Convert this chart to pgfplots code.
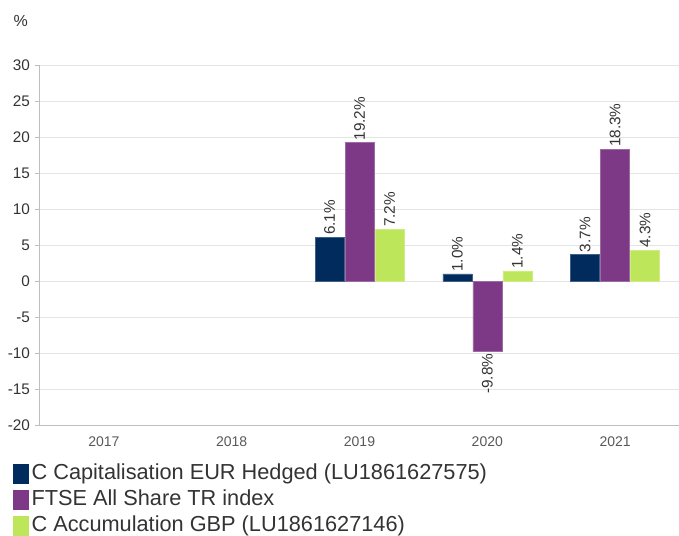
\documentclass[border=0pt]{standalone}
\usepackage{pgfplots}
\pgfplotsset{compat=1.18}
\usepackage{fontspec}
\setmainfont{Liberation Sans}
\definecolor{cnavy}{RGB}{0,43,92}
\definecolor{cpurple}{RGB}{125,56,134}
\definecolor{cgreen}{RGB}{190,230,90}
\definecolor{gridc}{RGB}{228,228,228}
\definecolor{axc}{RGB}{190,190,190}
\definecolor{txt}{RGB}{51,51,51}
\begin{document}
\begin{tikzpicture}
\useasboundingbox (-30pt,-83.25pt) rectangle (479.25pt,318.75pt);
\begin{axis}[
  at={(0,0)}, anchor=south west,
  scale only axis, width=479.25pt, height=270pt,
  xmin=-0.5, xmax=4.5, ymin=-20, ymax=30,
  ytick={-20,-15,...,30},
  xtick={0,1,2,3,4},
  xticklabels={2017,2018,2019,2020,2021},
  ymajorgrids, grid style={gridc, line width=0.75pt},
  axis x line*=bottom, axis y line*=left,
  axis line style={axc, line width=0.75pt},
  x axis line style={-}, y axis line style={-},
  major x tick style={draw=none},
  major y tick style={axc, line width=0.75pt},
  tick align=outside, major tick length=4pt,
  tick label style={text=txt},
  yticklabel style={font=\fontsize{11.5}{13}\selectfont},
  /pgf/number format/assume math mode=true,
  xticklabel style={font=\fontsize{10.5}{12}\selectfont, yshift=-1pt, text=black!65},
  ybar=0.75pt, bar width=21.75pt,
  nodes near coords={\pgfmathprintnumber[fixed,fixed zerofill,precision=1]{\pgfplotspointmeta}\%},
  visualization depends on={value \thisrow{a} \as \myanchor},
  every node near coord/.append style={rotate=90, anchor=\myanchor, inner sep=1.5pt,
     font=\fontsize{11.5}{13}\selectfont, text=txt},
  legend cell align=left,
  legend style={at={(rel axis cs:0,0)}, anchor=north west, xshift=-20.5pt, yshift=-27pt,
    draw=none, fill=none, font=\fontsize{16.3}{18}\selectfont, text=txt,
    row sep=0pt, inner sep=0pt,
    nodes={text height=12pt, text depth=3.5pt, inner sep=2pt}},
  legend image code/.code={\fill[#1,draw=none] (0pt,-7.5pt) rectangle (12pt,7.5pt);},
  clip=false,
]
\addplot[fill=cnavy, draw=cnavy!75!white, line width=0.4pt] table[x=x,y=y] {
x y a
2 6.1 west
3 1.0 west
4 3.7 west
};
\addplot[fill=cpurple, draw=cpurple!75!white, line width=0.4pt] table[x=x,y=y] {
x y a
2 19.2 west
3 -9.8 east
4 18.3 west
};
\addplot[fill=cgreen, draw=cgreen!75!white, line width=0.4pt] table[x=x,y=y] {
x y a
2 7.2 west
3 1.4 west
4 4.3 west
};
\legend{C Capitalisation EUR Hedged (LU1861627575), FTSE All Share TR index, C Accumulation GBP (LU1861627146)}
\node[font=\fontsize{12}{13}\selectfont, text=txt] at ([xshift=-14.5pt,yshift=33pt]rel axis cs:0,1) {\%};
\end{axis}
\end{tikzpicture}
\end{document}
